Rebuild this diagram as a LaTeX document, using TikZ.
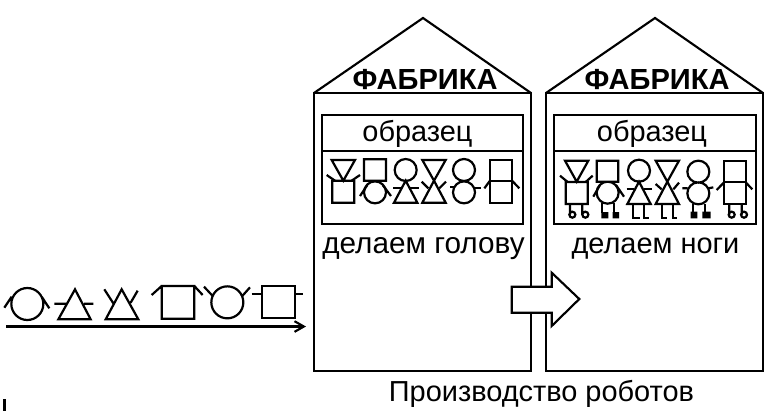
\documentclass[tikz,border=0pt]{standalone}
\usepackage{fontspec}
\setmainfont{Liberation Sans}
\usetikzlibrary{arrows.meta}
\tikzset{
 ln/.style={line width=1.6pt,line join=miter,black},
 thin ln/.style={line width=1.65pt,black},
 zoomed/.style={x=0.25pt,y=-0.25pt},
 title/.style={font=\bfseries\fontsize{21.8}{24}\selectfont,inner sep=0pt},
 lab/.style={font=\fontsize{21.7}{24}\selectfont,inner sep=0pt},
}
\begin{document}
\begin{tikzpicture}[x=0.75pt,y=-0.75pt]
\useasboundingbox (0,0) rectangle (770,419);
% factories
\foreach \n/\l/\r/\a/\bl/\br/\sx in {1/314/531/423/322/523/417.5, 2/546/763/655/554/756/652}{
  \draw[ln] (\l,93) -- (\a,18) -- (\r,93);
  \draw[ln] (\l,93) rectangle (\r,371);
  \draw[ln] (\bl,115) rectangle (\br,224);
  \draw[ln] (\bl,151) -- (\br,151);
  \node[title] (t\n) at (\a+2,79.5) {ФАБРИКА};
  \node[lab] (s\n) at (\sx,133.5) {образец};
}
\node[lab,font=\fontsize{22.3}{24}\selectfont] (d1) at (423.5,249) {делаем голову};
\node[lab] (d2) at (655.5,249) {делаем ноги};
\node[lab] (cap) at (541.5,394) {Производство роботов};
% figures in factory 1
\begin{scope}[shift={(310,110)},zoomed,thin ln]
 \draw (65,150)--(135,150)--(100,212)--cycle (67,212) rectangle (133,278);
 \draw (50,195)--(75,212) (150,195)--(125,212);
 \draw (162,148) rectangle (228,212) (195,247) circle [radius=33];
 \draw (150,258)--(172,225) (243,258)--(218,225);
 \draw (287,180) circle [radius=33] (287,212)--(322,278)--(252,278)--cycle;
 \draw (250,233)--(275,233) (299,233)--(328,233);
 \draw (337,150)--(407,150)--(372,212)--cycle (372,212)--(407,278)--(337,278)--cycle;
 \draw (335,215)--(355,235) (408,215)--(388,235);
 \draw (462,180) circle [radius=33] (462,247) circle [radius=33];
 \draw (420,230)--(432,230) (495,235)--(512,235);
 \draw (540,150) rectangle (606,212) (540,212) rectangle (606,278);
 \draw (523,235)--(540,212) (628,235)--(606,212);
\end{scope}
% figures in factory 2
\begin{scope}[shift={(545,110)},zoomed,thin ln]
 \draw (60,152)--(130,152)--(95,215)--cycle (62,216) rectangle (128,282);
 \draw (45,197)--(68,216) (143,197)--(122,216);
 \draw (75,282)--(75,314) (82,314) circle [radius=9] (112,282)--(112,314) (121,314) circle [radius=9];
 \draw (155,152) rectangle (220,215) (188,248) circle [radius=33];
 \draw (145,260)--(165,225) (237,260)--(213,225);
 \draw (172,280)--(172,310) (208,280)--(208,310);
 \fill (169,306) rectangle (190,325) (203,306) rectangle (222,325);
 \draw (282,182) circle [radius=33] (282,215)--(317,282)--(247,282)--cycle;
 \draw (245,238)--(268,238) (296,238)--(322,238);
 \draw (265,282)--(265,325)--(285,325) (298,282)--(298,325)--(312,325);
 \draw (332,152)--(402,152)--(367,215)--cycle (367,215)--(402,282)--(332,282)--cycle;
 \draw (332,222)--(350,238) (402,218)--(385,238);
 \draw (350,282)--(350,325)--(365,325) (385,282)--(385,325)--(397,325);
 \draw (460,185) circle [radius=33] (460,250) circle [radius=33];
 \draw (412,235)--(428,235) (490,235)--(505,232);
 \draw (445,282)--(445,310) (480,282)--(480,310);
 \fill (437,305) rectangle (457,325) (472,305) rectangle (497,325);
 \draw (537,152) rectangle (602,217) (537,217) rectangle (602,283);
 \draw (515,240)--(537,217) (622,238)--(602,217);
 \draw (553,283)--(553,314) (560,314) circle [radius=9] (590,283)--(590,314) (597,314) circle [radius=9];
\end{scope}
% belt figures
\begin{scope}[shift={(0,270)},zoomed,thin ln]
 \draw (82,102) circle [radius=48] (13,113)--(35,80) (148,115)--(125,80);
 \draw (225,58)--(272,148)--(175,148)--cycle (163,101)--(198,101) (252,101)--(280,101);
 \draw (365,58)--(415,148)--(317,148)--cycle (313,58)--(340,100) (413,62)--(392,98);
 \draw (485,48) rectangle (583,146) (455,75)--(485,48) (608,75)--(583,48);
 \draw (682,97) circle [radius=48] (612,50)--(640,80) (750,52)--(725,80);
 \draw (786,47) rectangle (884,145) (755,72)--(786,72) (884,72)--(908,72);
\end{scope}
\coordinate (bs) at (6,326.5);
\coordinate (be) at (306,326.5);
\draw[ln,-{Straight Barb[length=7pt,width=8pt]}] (bs) -- (be);
\coordinate (t1) at (4.5,399);
\coordinate (t2) at (4.5,411);
\draw[line width=1.6pt] (t1) -- (t2);
% hollow arrow
\draw[ln,fill=white] (511.7,286.7)--(551.7,286.7)--(551.7,272.7)--(579.3,299)--(551.7,326)--(551.7,312.7)--(511.7,312.7)--cycle;
\end{tikzpicture}
\end{document}
